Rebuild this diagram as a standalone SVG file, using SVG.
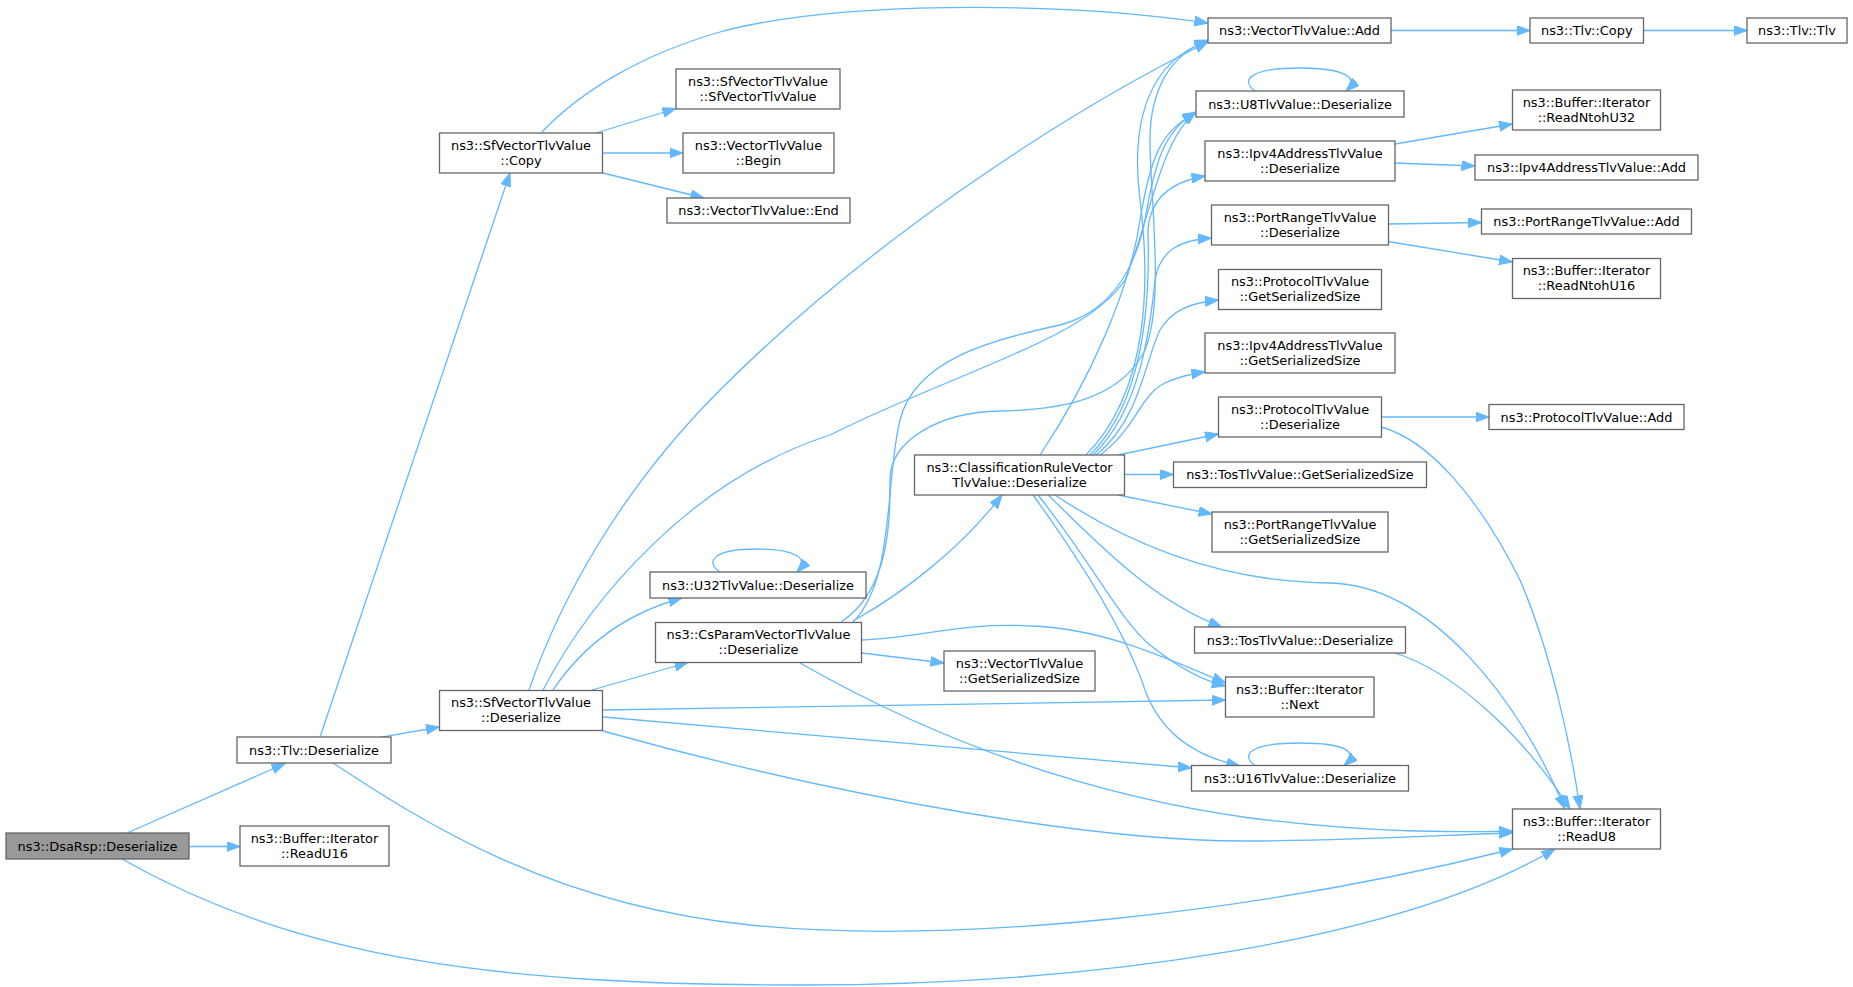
<svg xmlns="http://www.w3.org/2000/svg" width="1853" height="987" viewBox="0 0 1853 987">
<defs>
<style>
.n rect{fill:#ffffff;stroke:#666666;stroke-width:1.3}
.root rect{fill:#999999}
text{font-family:"DejaVu Sans","Liberation Sans",sans-serif;font-size:12.9px;text-anchor:middle;fill:#000000}
#edges path{fill:none;stroke:#63b8ff;stroke-width:1.3;marker-end:url(#a)}
</style>
<marker id="a" markerUnits="userSpaceOnUse" markerWidth="16" markerHeight="12" refX="13.5" refY="5" orient="auto"><path d="M0,0L13.5,5L0,10z" fill="#63b8ff" stroke="#63b8ff" stroke-width="1"/></marker>
</defs>
<rect width="1853" height="987" fill="#ffffff"/>
<g id="edges">
<path d="M127,833L285,763.5"/>
<path d="M189,846.5L240,846.5"/>
<path d="M122,859C300,960 500,985 800,985C1100,985 1400,940 1555,849"/>
<path d="M320,737L510,173"/>
<path d="M380,737.3L439.5,727"/>
<path d="M333,763C420,820 550,905 750,925C950,945 1250,915 1513,849"/>
<path d="M542,132C580,92 640,55 720,32C830,2 1050,0 1208,23"/>
<path d="M596,133L676,108.5"/>
<path d="M603,153L683,153"/>
<path d="M603,173L704,198"/>
<path d="M529,690C560,600 620,490 720,390C860,250 1050,120 1208,42"/>
<path d="M543,690C590,600 690,480 830,435C960,370 1085,340 1125,280C1150,220 1160,140 1196,112"/>
<path d="M553,690C580,650 620,615 682,598"/>
<path d="M592,690L688,662.5"/>
<path d="M603,710L1225.5,700"/>
<path d="M603,717L1191.5,768"/>
<path d="M603,731C850,800 1100,842 1250,841C1380,840 1460,834 1512.5,833"/>
<path d="M720,572C706,563 710,549 757,549C795,549 810,558 797,572"/>
<path d="M853,622C895,580 885,480 900,420C915,360 990,340 1060,325C1110,312 1135,270 1145,220C1155,160 1165,130 1196,112"/>
<path d="M841,622C890,590 890,520 890,480C890,440 940,412 1000,411C1060,410 1120,400 1145,350C1165,300 1150,200 1150,140C1150,90 1170,55 1208,40"/>
<path d="M853,621C900,595 960,550 1002,495"/>
<path d="M862,640C920,638 960,622 1030,626C1100,628 1160,655 1225.5,683"/>
<path d="M862,653L944,663"/>
<path d="M800,663C900,720 1050,790 1250,818C1380,834 1460,832 1512.5,831"/>
<path d="M1086,455C1150,390 1150,280 1140,200C1130,120 1150,60 1208,41"/>
<path d="M1040,455C1090,380 1130,290 1140,220C1150,160 1160,130 1196,113"/>
<path d="M1090,455C1145,400 1150,300 1148,230C1150,200 1170,182 1205,176"/>
<path d="M1093,455C1140,410 1150,330 1155,280C1160,250 1180,240 1211.5,238"/>
<path d="M1096,455C1140,420 1145,360 1160,330C1172,310 1190,303 1218.5,300"/>
<path d="M1100,455C1135,430 1140,395 1165,383C1178,377 1190,374 1205,372"/>
<path d="M1118,455L1218.5,434"/>
<path d="M1124.5,474.5L1173.5,474.5"/>
<path d="M1118,495L1212,514"/>
<path d="M1048,495C1095,540 1150,600 1222,627"/>
<path d="M1038,495C1090,560 1120,620 1150,645C1175,665 1200,680 1225.5,686"/>
<path d="M1033,495C1080,560 1125,630 1145,690C1160,730 1190,755 1240,766"/>
<path d="M1055,495C1130,545 1220,582 1330,583C1430,585 1520,700 1565,809"/>
<path d="M1395,653C1450,670 1520,730 1570,809"/>
<path d="M1381,427C1430,440 1480,500 1520,580C1550,650 1570,740 1580,809"/>
<path d="M1381,417L1489,417"/>
<path d="M1395,144L1512.5,124"/>
<path d="M1395,163L1475,166"/>
<path d="M1388,224L1481.5,222.5"/>
<path d="M1388,241.5L1512.5,262"/>
<path d="M1391,30.5L1530,30.5"/>
<path d="M1643.5,30.5L1747,30.5"/>
<path d="M1255,91C1240,80 1250,68 1300,68C1345,68 1360,78 1346,91"/>
<path d="M1255,765.5C1240,755 1250,743 1300,743C1345,743 1360,752 1344,765.5"/>
</g>
<g id="n-dsarsp" class="n root"><rect x="6" y="833" width="183" height="26"/><text x="97.5" y="850.5">ns3::DsaRsp::Deserialize</text></g>
<g id="n-tlvdeser" class="n"><rect x="237" y="737" width="154" height="26"/><text x="314" y="754.5">ns3::Tlv::Deserialize</text></g>
<g id="n-readu16" class="n"><rect x="240" y="826" width="149" height="40"/><text x="314.5" y="842.5">ns3::Buffer::Iterator</text><text x="314.5" y="857.5">::ReadU16</text></g>
<g id="n-sfcopy" class="n"><rect x="439.5" y="133" width="163" height="40"/><text x="521" y="149.5">ns3::SfVectorTlvValue</text><text x="521" y="164.5">::Copy</text></g>
<g id="n-sfdeser" class="n"><rect x="439.5" y="690.5" width="163" height="40"/><text x="521" y="707">ns3::SfVectorTlvValue</text><text x="521" y="722">::Deserialize</text></g>
<g id="n-sfctor" class="n"><rect x="676" y="69" width="164" height="40"/><text x="758" y="85.5">ns3::SfVectorTlvValue</text><text x="758" y="100.5">::SfVectorTlvValue</text></g>
<g id="n-begin" class="n"><rect x="683" y="133" width="151" height="40"/><text x="758.5" y="149.5">ns3::VectorTlvValue</text><text x="758.5" y="164.5">::Begin</text></g>
<g id="n-end" class="n"><rect x="667" y="198" width="183" height="25"/><text x="758.5" y="215">ns3::VectorTlvValue::End</text></g>
<g id="n-u32" class="n"><rect x="650" y="572" width="216" height="26"/><text x="758" y="589.5">ns3::U32TlvValue::Deserialize</text></g>
<g id="n-csparam" class="n"><rect x="655.5" y="622.5" width="206" height="40"/><text x="758.5" y="639">ns3::CsParamVectorTlvValue</text><text x="758.5" y="654">::Deserialize</text></g>
<g id="n-vecgetsize" class="n"><rect x="944" y="651" width="151" height="40"/><text x="1019.5" y="667.5">ns3::VectorTlvValue</text><text x="1019.5" y="682.5">::GetSerializedSize</text></g>
<g id="n-classrule" class="n"><rect x="914.5" y="455" width="210" height="40"/><text x="1019.5" y="471.5">ns3::ClassificationRuleVector</text><text x="1019.5" y="486.5">TlvValue::Deserialize</text></g>
<g id="n-vecadd" class="n"><rect x="1208" y="18" width="183" height="25"/><text x="1299.5" y="35">ns3::VectorTlvValue::Add</text></g>
<g id="n-tlvcopy" class="n"><rect x="1530" y="18" width="113.5" height="25"/><text x="1586.75" y="35">ns3::Tlv::Copy</text></g>
<g id="n-tlvtlv" class="n"><rect x="1747" y="18" width="100" height="25"/><text x="1797" y="35">ns3::Tlv::Tlv</text></g>
<g id="n-u8" class="n"><rect x="1196" y="91" width="208" height="26"/><text x="1300" y="108.5">ns3::U8TlvValue::Deserialize</text></g>
<g id="n-readntohu32" class="n"><rect x="1512.5" y="90" width="148" height="40"/><text x="1586.5" y="106.5">ns3::Buffer::Iterator</text><text x="1586.5" y="121.5">::ReadNtohU32</text></g>
<g id="n-ipv4deser" class="n"><rect x="1205" y="141" width="190" height="40"/><text x="1300" y="157.5">ns3::Ipv4AddressTlvValue</text><text x="1300" y="172.5">::Deserialize</text></g>
<g id="n-ipv4add" class="n"><rect x="1475" y="155" width="223" height="25"/><text x="1586.5" y="172">ns3::Ipv4AddressTlvValue::Add</text></g>
<g id="n-portdeser" class="n"><rect x="1211.5" y="205" width="177" height="40"/><text x="1300" y="221.5">ns3::PortRangeTlvValue</text><text x="1300" y="236.5">::Deserialize</text></g>
<g id="n-portadd" class="n"><rect x="1481.5" y="209" width="210" height="25"/><text x="1586.5" y="226">ns3::PortRangeTlvValue::Add</text></g>
<g id="n-readntohu16" class="n"><rect x="1512.5" y="258.5" width="148" height="40"/><text x="1586.5" y="275">ns3::Buffer::Iterator</text><text x="1586.5" y="290">::ReadNtohU16</text></g>
<g id="n-protogetsize" class="n"><rect x="1218.5" y="269.5" width="163" height="40"/><text x="1300" y="286">ns3::ProtocolTlvValue</text><text x="1300" y="301">::GetSerializedSize</text></g>
<g id="n-ipv4getsize" class="n"><rect x="1205" y="333" width="190" height="40"/><text x="1300" y="349.5">ns3::Ipv4AddressTlvValue</text><text x="1300" y="364.5">::GetSerializedSize</text></g>
<g id="n-protodeser" class="n"><rect x="1218.5" y="397" width="163" height="40"/><text x="1300" y="413.5">ns3::ProtocolTlvValue</text><text x="1300" y="428.5">::Deserialize</text></g>
<g id="n-protoadd" class="n"><rect x="1489" y="404.5" width="195" height="25"/><text x="1586.5" y="421.5">ns3::ProtocolTlvValue::Add</text></g>
<g id="n-tosgetsize" class="n"><rect x="1173.5" y="462" width="253" height="25.5"/><text x="1300" y="479">ns3::TosTlvValue::GetSerializedSize</text></g>
<g id="n-portgetsize" class="n"><rect x="1212" y="512" width="176" height="40"/><text x="1300" y="528.5">ns3::PortRangeTlvValue</text><text x="1300" y="543.5">::GetSerializedSize</text></g>
<g id="n-tosdeser" class="n"><rect x="1194.5" y="627" width="211" height="26"/><text x="1300" y="644.5">ns3::TosTlvValue::Deserialize</text></g>
<g id="n-next" class="n"><rect x="1225.5" y="677" width="148.5" height="40"/><text x="1299.75" y="693.5">ns3::Buffer::Iterator</text><text x="1299.75" y="708.5">::Next</text></g>
<g id="n-u16" class="n"><rect x="1191.5" y="765.5" width="217" height="25.5"/><text x="1300" y="782.5">ns3::U16TlvValue::Deserialize</text></g>
<g id="n-readu8" class="n"><rect x="1512.5" y="809" width="148" height="40"/><text x="1586.5" y="825.5">ns3::Buffer::Iterator</text><text x="1586.5" y="840.5">::ReadU8</text></g>
</svg>
